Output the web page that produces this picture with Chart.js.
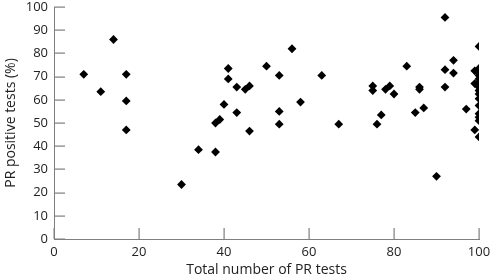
<!DOCTYPE html>
<html>
<head>
<meta charset="utf-8">
<script src="https://cdn.jsdelivr.net/npm/chart.js@4.4.1/dist/chart.umd.min.js"></script>
<style>
  html, body { margin: 0; padding: 0; background: #fff; }
  #wrap { width: 492px; height: 278px; position: relative; }
</style>
</head>
<body>
<div id="wrap"><canvas id="c" width="492" height="278"></canvas></div>
<script>
// Total number of PR tests (x) and % PR positive tests (y)
const totalTests = [
  7, 11, 14, 17, 17, 17,
  30, 34, 38, 38, 39, 40, 41, 41, 43, 43, 45, 46, 46,
  50, 53, 53, 53, 56, 58, 63, 67,
  75, 75, 76, 77, 78, 79, 80, 83, 85, 86, 86, 87,
  90, 92, 92, 92, 94, 94, 97, 99, 99, 99,
  100, 100, 100, 100, 100, 100, 100, 100, 100, 100, 100, 100, 100, 100, 100
];
const positivePct = [
  71, 63.5, 86, 71, 59.5, 47,
  23.5, 38.5, 37.5, 50, 51.5, 58, 73.5, 69, 54.5, 65.5, 64.5, 66, 46.5,
  74.5, 70.5, 55, 49.5, 82, 59, 70.5, 49.5,
  66, 64, 49.5, 53.5, 64.5, 66, 62.5, 74.5, 54.5, 65.5, 64.5, 56.5,
  27, 95.5, 73, 65.5, 77, 71.5, 56, 72.5, 67, 47,
  83, 73.5, 72, 70.5, 69, 67.5, 65.5, 64, 62.5, 60.5, 57.5, 54, 52.5, 51, 44
];
const xTicks = [0, 20, 40, 60, 80, 100];
const yTicks = [0, 10, 20, 30, 40, 50, 60, 70, 80, 90, 100];
const xTitle = 'Total number of PR tests';
const yTitle = 'PR positive tests (%)';

const points = totalTests.map((x, i) => ({ x: x, y: positivePct[i] }));
const FONT = "'Open Sans', 'DejaVu Sans', sans-serif";
const axisColor = '#7f7f7f';
const TICK_LEN = 11;

function zeroPad(s) { s.paddingTop = 0; s.paddingBottom = 0; s.paddingLeft = 0; s.paddingRight = 0; }

// inward tick marks drawn from the library's own scales
const innerTicks = {
  id: 'innerTicks',
  afterDraw(chart) {
    const ctx = chart.ctx;
    const xs = chart.scales.x, ys = chart.scales.y;
    const left = chart.chartArea.left, bottom = chart.chartArea.bottom;
    ctx.save();
    ctx.fillStyle = axisColor;
    xTicks.forEach(v => {
      const px = Math.round(xs.getPixelForValue(v));
      ctx.fillRect(px - 0.5, bottom - TICK_LEN, 1.2, TICK_LEN);
    });
    yTicks.forEach(v => {
      const py = Math.round(ys.getPixelForValue(v));
      ctx.fillRect(left, py - 0.5, TICK_LEN, 1.2);
    });
    ctx.restore();
  }
};

const chart = new Chart(document.getElementById('c'), {
  type: 'scatter',
  data: {
    datasets: [{
      data: points,
      pointStyle: 'rectRot',
      pointRadius: 4.4,
      pointHoverRadius: 4.4,
      backgroundColor: '#000',
      borderColor: '#000',
      borderWidth: 0
    }]
  },
  plugins: [innerTicks],
  options: {
    responsive: false,
    animation: false,
    devicePixelRatio: 1,
    layout: { autoPadding: false, padding: { left: 0, top: 7, right: 13, bottom: 0 } },
    plugins: { legend: { display: false }, tooltip: { enabled: false } },
    scales: {
      x: {
        type: 'linear',
        min: 0, max: 100,
        afterBuildTicks: (s) => { s.ticks = xTicks.map(v => ({ value: v })); },
        afterFit: (s) => { s.height = 39; zeroPad(s); },
        ticks: { color: '#222', font: { family: FONT, size: 13 }, padding: 5, maxRotation: 0 },
        grid: { drawOnChartArea: false, drawTicks: false, color: axisColor },
        border: { display: true, color: axisColor, width: 1 },
        title: { display: true, text: xTitle, color: '#222', font: { family: FONT, size: 14 }, padding: { top: 0, bottom: 0 } }
      },
      y: {
        type: 'linear',
        min: 0, max: 100,
        afterBuildTicks: (s) => { s.ticks = yTicks.map(v => ({ value: v })); },
        afterFit: (s) => { s.width = 54; zeroPad(s); },
        ticks: { color: '#222', font: { family: FONT, size: 13 }, padding: 6 },
        grid: { drawOnChartArea: false, drawTicks: false, color: axisColor },
        border: { display: true, color: axisColor, width: 1 },
        title: { display: true, text: yTitle, color: '#222', font: { family: FONT, size: 14 }, padding: { top: 3, bottom: 0 } }
      }
    }
  }
});
</script>
</body>
</html>
